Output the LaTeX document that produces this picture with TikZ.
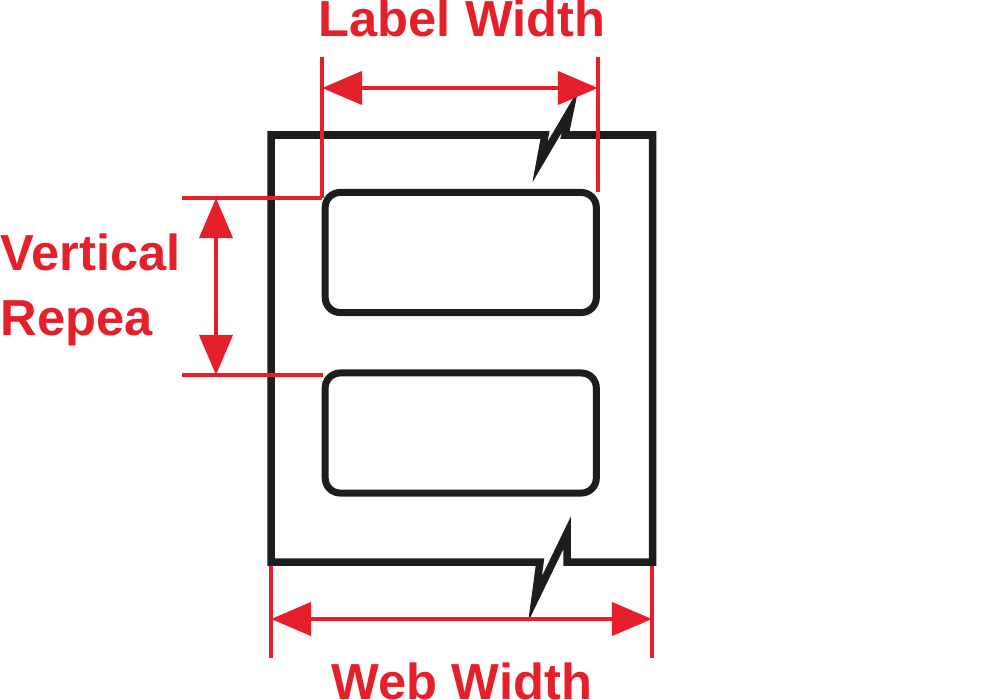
\documentclass[tikz,border=0pt]{standalone}
\usepackage{fontspec}
\setmainfont{Liberation Sans}
\usetikzlibrary{positioning, arrows.meta}
\definecolor{dimred}{RGB}{230,32,42}
\definecolor{webblack}{RGB}{30,28,28}
\tikzset{
    labelbox/.style={draw=webblack, line width=0.07cm, rounded corners=0.15cm,
        minimum width=2.71cm, minimum height=1.2cm, inner sep=0pt},
    webline/.style={draw=webblack, line width=0.075cm, line join=miter},
    dimline/.style={draw=dimred, line width=0.04cm},
    dimarrow/.style={dimline, {Triangle[length=0.4cm, width=0.33cm]}-{Triangle[length=0.4cm, width=0.33cm]}},
    dimtext/.style={text=dimred, inner sep=0pt, font=\fontsize{14.4}{17}\selectfont\bfseries}
}

\begin{document}
\begin{tikzpicture}[x=0.01cm, y=-0.01cm]
        \useasboundingbox (0,0) rectangle (1000,700);
        % web with its two break marks
        \draw [webline] (271,135) -- (545,135) -- (540,162) -- (570,111) -- (565,135)
            -- (652.5,135) -- (652.5,562) -- (567,562) -- (567,533) -- (535,599)
            -- (540,562) -- (271,562) -- cycle;
        % labels
        \node [labelbox] (label1) at (460.75,252.5) {};
        \node [labelbox] (label2) at (460.75,433) {};
        % label width
        \coordinate (lwA) at (322,57);
        \coordinate (lwB) at (322,198);
        \coordinate (lwC) at (598,57);
        \coordinate (lwD) at (598,192);
        \coordinate (lwL) at (322,88);
        \coordinate (lwR) at (598,88);
        \draw [dimline] (lwA) to (lwB);
        \draw [dimline] (lwC) to (lwD);
        \draw [dimarrow] (lwL) to (lwR);
        \node [dimtext, anchor=base] (lwtext) at (462,36) {Label Width};
        % vertical repeat
        \coordinate (vrA) at (182,198);
        \coordinate (vrB) at (182,375);
        \coordinate (vrC) at (323,375);
        \coordinate (vrT) at (216,198);
        \coordinate (vrU) at (216,375);
        \draw [dimline] (vrA) to (lwB);
        \draw [dimline] (vrB) to (vrC);
        \draw [dimarrow] (vrT) to (vrU);
        \node [dimtext, anchor=base west] (vrtext) at (0,270) {Vertical};
        \node [dimtext, anchor=base west] (vrtext2) at (0,335) {Repea};
        % web width
        \coordinate (wwA) at (271,566);
        \coordinate (wwB) at (271,658);
        \coordinate (wwC) at (652,566);
        \coordinate (wwD) at (652,658);
        \coordinate (wwL) at (271,619);
        \coordinate (wwR) at (652,619);
        \draw [dimline] (wwA) to (wwB);
        \draw [dimline] (wwC) to (wwD);
        \draw [dimarrow] (wwL) to (wwR);
        \node [dimtext, anchor=base] (wwtext) at (462,699) {Web Width};
    \end{tikzpicture}
\end{document}
